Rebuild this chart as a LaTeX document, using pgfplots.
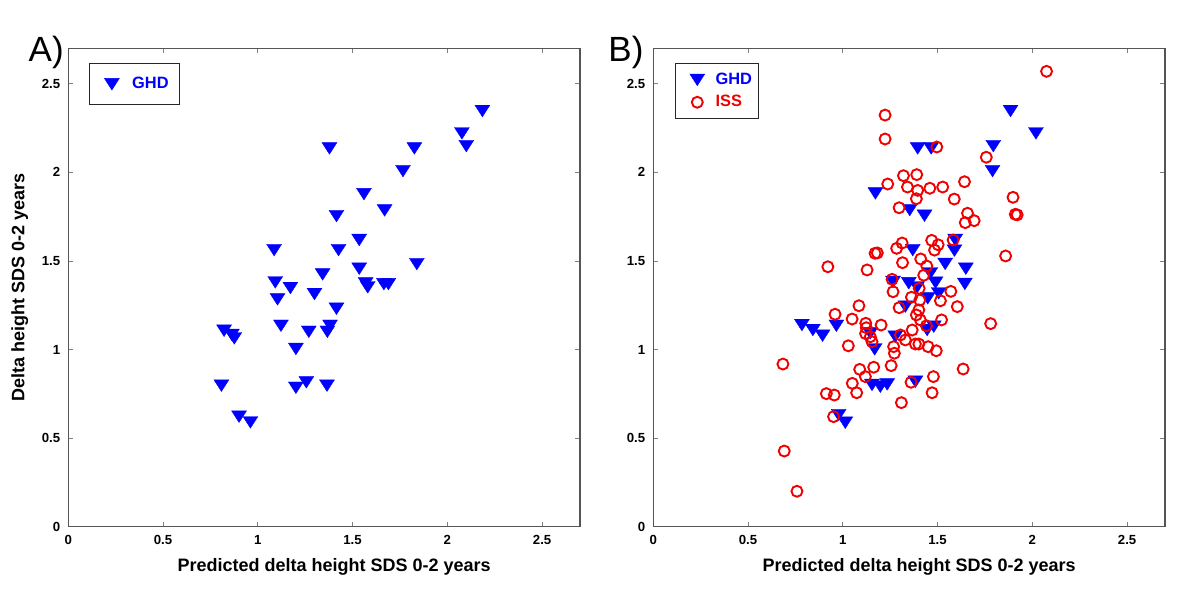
\documentclass[border=0pt]{standalone}
\usepackage{fontspec}
\setmainfont{Liberation Sans}
\usepackage{pgfplots}
\pgfplotsset{compat=1.18}
\definecolor{mblue}{RGB}{0,0,255}
\definecolor{mred}{RGB}{240,0,0}
\definecolor{axgray}{RGB}{85,85,85}

\pgfplotstableread{
x y
2.185 2.346
2.077 2.220
2.100 2.148
1.378 2.135
1.826 2.135
1.766 2.007
1.560 1.877
1.669 1.785
1.415 1.753
1.535 1.618
1.086 1.561
1.426 1.561
1.839 1.482
1.535 1.456
1.342 1.424
1.092 1.379
1.569 1.373
1.580 1.351
1.665 1.369
1.689 1.369
1.172 1.347
1.299 1.313
1.104 1.283
1.415 1.230
1.122 1.134
1.381 1.134
1.367 1.100
1.269 1.100
0.822 1.106
0.863 1.082
0.876 1.063
1.201 1.003
0.808 0.796
1.201 0.784
1.256 0.815
1.365 0.796
0.901 0.621
0.961 0.589
}\ghdA

\pgfplotstableread{
x y
1.885 2.346
2.019 2.220
1.794 2.148
1.395 2.135
1.466 2.135
1.790 2.007
1.172 1.881
1.353 1.787
1.431 1.755
1.593 1.618
1.589 1.558
1.369 1.561
1.540 1.483
1.649 1.456
1.462 1.430
1.265 1.381
1.348 1.374
1.489 1.377
1.644 1.370
1.392 1.351
1.506 1.317
1.448 1.289
1.330 1.242
0.784 1.138
0.966 1.134
1.480 1.129
0.842 1.110
1.445 1.110
1.145 1.091
0.893 1.078
1.277 1.072
1.168 1.001
1.383 0.818
1.154 0.800
1.198 0.790
1.234 0.803
0.978 0.630
1.013 0.587
}\ghdB

\pgfplotstableread{
x y
2.075 2.570
1.223 2.323
1.223 2.188
1.496 2.143
1.757 2.085
1.320 1.981
1.390 1.987
1.237 1.934
1.341 1.917
1.395 1.898
1.459 1.910
1.527 1.917
1.642 1.947
1.388 1.851
1.588 1.849
1.898 1.859
1.297 1.800
1.658 1.769
1.646 1.716
1.693 1.727
1.910 1.763
1.920 1.760
1.469 1.616
1.503 1.591
1.484 1.561
1.582 1.618
1.313 1.601
1.284 1.571
1.170 1.543
1.182 1.545
1.128 1.449
1.315 1.490
1.411 1.511
1.443 1.471
1.427 1.419
1.859 1.528
1.260 1.396
1.265 1.326
1.403 1.345
1.570 1.328
1.362 1.295
1.406 1.279
1.515 1.275
1.297 1.236
1.604 1.242
1.085 1.247
1.401 1.223
1.388 1.195
1.409 1.167
0.921 1.467
0.959 1.199
1.049 1.172
1.121 1.148
1.202 1.138
1.124 1.123
1.120 1.090
1.145 1.072
1.154 1.044
1.029 1.021
0.684 0.918
1.089 0.888
1.119 0.847
1.163 0.900
1.255 0.909
1.050 0.809
1.073 0.756
0.913 0.751
0.955 0.743
1.309 0.700
0.951 0.621
0.691 0.427
0.758 0.200
1.360 0.815
1.478 0.847
1.471 0.756
1.635 0.890
1.780 1.146
1.521 1.167
1.366 1.110
1.304 1.082
1.330 1.054
1.383 1.031
1.401 1.031
1.450 1.016
1.493 0.993
1.268 1.016
1.272 0.979
1.441 1.134
}\issB

\pgfplotsset{
  panel/.style={
    scale only axis, width=255.85pt, height=239.2pt,
    anchor=south west,
    xmin=0, xmax=2.7, ymin=0, ymax=2.7,
    xtick={0,0.5,1,1.5,2,2.5}, ytick={0,0.5,1,1.5,2,2.5},
    xticklabels={0,0.5,1,1.5,2,2.5}, yticklabels={0,0.5,1,1.5,2,2.5},
    tick align=inside, major tick length=2.4pt,
    axis line style={draw=axgray, line width=0.6pt},
    every tick/.style={draw=gray, line width=0.4pt},
    ticklabel style={font=\fontsize{6.6}{7}\selectfont\bfseries},
    xticklabel style={yshift=-1pt},
    yticklabel style={xshift=-0.5pt},
    label style={font=\fontsize{9}{10}\selectfont\bfseries},
    xlabel style={xshift=5pt},
    legend cell align=left,
    legend style={anchor=north west, draw=black!85, line width=0.6pt,
      font=\fontsize{8.2}{9}\selectfont\bfseries,
      column sep=0pt,
      nodes={inner sep=0pt}},
  },
  ghd/.style={only marks, mark=triangle*, mark size=4.3pt, color=mblue,
    mark options={yshift=0.97pt, yscale=-0.9, fill=mblue, draw=mblue, line width=0.2pt}},
  iss/.style={only marks, mark=o, mark size=2.75pt, color=mred,
    mark options={draw=mred, line width=0.95pt}},
}

\begin{document}
\begin{tikzpicture}
\useasboundingbox (0,0) rectangle (600pt,305pt);

\begin{axis}[panel, at={(34.15pt,41.65pt)},
  xlabel={Predicted delta height SDS 0-2 years},
  ylabel={Delta height SDS 0-2 years},
  legend style={at={(0.041,0.969)}, inner xsep=5.5pt, inner ysep=5.25pt},
  legend image code/.code={\path[draw=none,fill=none] (0pt,-5pt) rectangle (15.65pt,5pt);
    \draw[#1] plot coordinates {(5.5pt,0pt)};}]
\addplot[ghd] table[x=x,y=y] {\ghdA};
\addlegendentry{\textcolor{mblue}{GHD}}
\end{axis}

\begin{axis}[panel, at={(326.65pt,41.65pt)},
  xlabel={Predicted delta height SDS 0-2 years},
  legend style={at={(0.0424,0.97)}, inner xsep=3.3pt, inner ysep=3.3pt,
    row sep=1.2pt},
  legend image code/.code={\path[draw=none,fill=none] (0pt,-5pt) rectangle (16.7pt,5pt);
    \draw[#1] plot coordinates {(7.55pt,0pt)};}]
\addplot[ghd] table[x=x,y=y] {\ghdB};
\addlegendentry{\textcolor{mblue}{GHD}}
\addplot[iss] table[x=x,y=y] {\issB};
\addlegendentry{\textcolor{mred}{ISS}}
\end{axis}

\node[anchor=base west, inner sep=0pt, font=\fontsize{17.5}{20}\selectfont] at (14.15pt,274.15pt) {A)};
\node[anchor=base west, inner sep=0pt, font=\fontsize{17.5}{20}\selectfont] at (304pt,274.15pt) {B)};
\end{tikzpicture}
\end{document}
